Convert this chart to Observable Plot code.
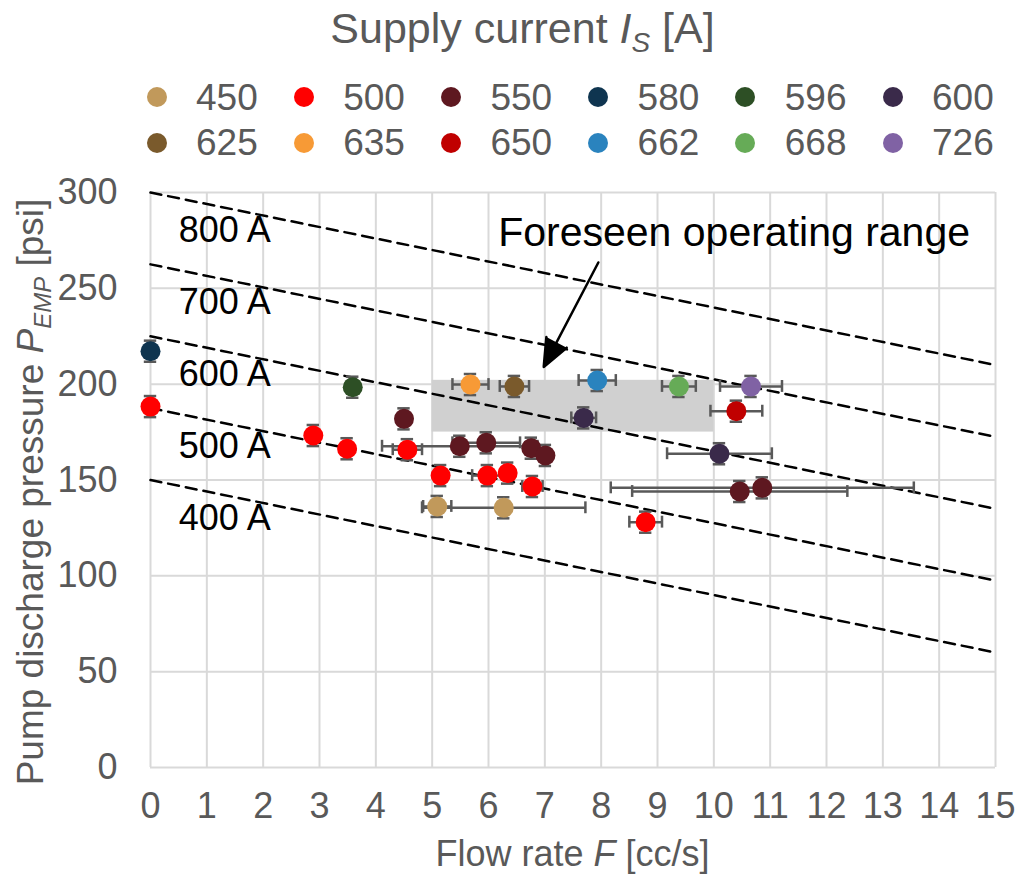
<!DOCTYPE html>
<html>
<head>
<meta charset="utf-8">
<script src="https://cdn.jsdelivr.net/npm/d3@7"></script>
<script src="https://cdn.jsdelivr.net/npm/@observablehq/plot@0.6"></script>
<style>
  html, body { margin: 0; padding: 0; background: #fff; overflow: hidden; }
  body { font-family: "Liberation Sans", Arial, sans-serif; }
  #chart { position: relative; width: 1026px; height: 879px; }
  #legend { position: relative; width: 1026px; height: 165px; color: #595959; }
  #legend .title { position: absolute; left: 0; width: 1045px; top: 7px; font-size: 43px; line-height: 43px; text-align: center; white-space: nowrap; }
  #legend .title .sub { font-size: 0.65em; font-style: italic; position: relative; top: 9px; }
  #legend .sw { position: absolute; width: 20px; height: 20px; border-radius: 50%; }
  #legend .lab { position: absolute; font-size: 37px; line-height: 37px; white-space: nowrap; }
  #chart svg { display: block; }
</style>
</head>
<body>
<div id="chart"><div id="legend"></div></div>
<script>
// ---- Data ----
const series = [450, 500, 550, 580, 596, 600, 625, 635, 650, 662, 668, 726];
const seriesColors = ["#c1995b", "#ff0000", "#5e1820", "#0f3550", "#2d4f25", "#3a2a4a",
                      "#7a5a2c", "#f79a36", "#c00000", "#2a83be", "#66ab57", "#8062a4"];

// supply current of each measured point
const pointCurrent = [450, 450,
  500, 500, 500, 500, 500, 500, 500, 500, 500,
  550, 550, 550, 550, 550, 550, 550,
  580, 596, 600, 600, 625, 635, 650, 662, 668, 726];
// flow rate F [cc/s]
const pointFlow = [5.09, 6.27,
  0, 2.89, 3.49, 4.56, 5.15, 5.98, 6.34, 6.78, 8.79,
  4.50, 5.49, 5.96, 6.76, 7.01, 10.46, 10.86,
  0, 3.59, 7.69, 10.10, 6.46, 5.68, 10.40, 7.93, 9.38, 10.66];
// pump discharge pressure [psi]
const pointPressure = [136.2, 135.5,
  188.3, 173.2, 166.3, 165.8, 152.3, 152.3, 153.6, 146.6, 128.0,
  181.9, 167.6, 169.4, 166.6, 162.8, 144.0, 145.9,
  217.2, 198.4, 182.4, 163.7, 198.8, 199.8, 185.9, 201.9, 198.8, 198.8];
// horizontal error (± cc/s)
const flowError = [0.25, 1.45,
  0, 0, 0, 0.26, 0, 0.27, 0, 0.18, 0.29,
  0, 1.38, 0.60, 0, 0, 1.91, 2.69,
  0, 0, 0.22, 0.93, 0.26, 0.32, 0.46, 0.33, 0.30, 0.55];
const pressureError = 5.5; // ± psi, same for all points

// constant-current reference lines
const lineCurrent = [400, 500, 600, 700, 800];
const linePressureAtZero = [150, 187.5, 225, 262.5, 300];
const linePressureAtMax = [60, 97.5, 135, 172.5, 210];
const lineFlowRange = [0, 15];

// foreseen operating range
const rangeFlow = [5, 10];
const rangePressure = [175, 202];
const annotationText = "Foreseen operating range";
const annotationAt = [10.36, 279];
const arrowFrom = [7.95, 263.5];
const arrowTo = [6.98, 209];

// axes
const flowTicks = [0, 1, 2, 3, 4, 5, 6, 7, 8, 9, 10, 11, 12, 13, 14, 15];
const pressureTicks = [0, 50, 100, 150, 200, 250, 300];

// ---- Build tables ----
const points = pointFlow.map((F, i) => ({F, P: pointPressure[i], I: pointCurrent[i], e: flowError[i]}));
const hbars = points.filter(d => d.e > 0);
const lineData = lineCurrent.flatMap((I, i) => [
  {I, F: lineFlowRange[0], P: linePressureAtZero[i]},
  {I, F: lineFlowRange[1], P: linePressureAtMax[i]}
]);
const labelFlow = 0.5, labelProbe = 1.33, labelDrop = 12;
const labelData = lineCurrent.map((I, i) => {
  const slope = (linePressureAtMax[i] - linePressureAtZero[i]) / (lineFlowRange[1] - lineFlowRange[0]);
  return {F: labelFlow, P: linePressureAtZero[i] + slope * labelProbe - labelDrop, t: `${I} A`};
});

// ---- Legend (HTML above the SVG) ----
const legend = d3.select("#legend");
legend.append("div").attr("class", "title")
  .html('Supply current <i>I</i><span class="sub">S</span> [A]');
series.forEach((s, i) => {
  const col = i % 6, row = Math.floor(i / 6);
  const cx = 156.5 + 147.2 * col, cy = 97 + 45.7 * row;
  legend.append("div").attr("class", "sw")
    .style("left", (cx - 10) + "px").style("top", (cy - 10) + "px")
    .style("background", seriesColors[i]);
  legend.append("div").attr("class", "lab")
    .style("left", (196 + 147.2 * col) + "px").style("top", (78.7 + 45.5 * row) + "px")
    .text(String(s));
});

// ---- Plot ----
const errStroke = "#595959";
const plot = Plot.plot({
  width: 1026,
  height: 714,
  marginTop: 27,
  marginRight: 31,
  marginBottom: 112,
  marginLeft: 150,
  style: {fontFamily: '"Liberation Sans", Arial, sans-serif', fontSize: "36px", color: "#595959", background: "white", overflow: "visible"},
  x: {domain: [0, 15], ticks: flowTicks, tickSize: 0, tickPadding: 25, label: null},
  y: {domain: [0, 300], ticks: pressureTicks, tickSize: 0, tickPadding: 33, label: null},
  color: {type: "ordinal", domain: series, range: seriesColors},
  marks: [
    Plot.ruleX(flowTicks, {x: d => d, stroke: "#d9d9d9", strokeWidth: 2}),
    Plot.ruleY(pressureTicks, {y: d => d, stroke: "#d9d9d9", strokeWidth: 2}),
    Plot.rect([{x1: rangeFlow[0], x2: rangeFlow[1], y1: rangePressure[0], y2: rangePressure[1]}],
      {x1: "x1", x2: "x2", y1: "y1", y2: "y2", fill: "#d0d0d0"}),
    Plot.line(lineData, {x: "F", y: "P", z: "I", stroke: "black", strokeWidth: 2.5, strokeDasharray: "11,7"}),
    Plot.text(labelData, {x: "F", y: "P", text: "t", textAnchor: "start", fill: "black", fontSize: 36}),
    // horizontal error bars
    Plot.ruleY(hbars, {y: "P", x1: d => d.F - d.e, x2: d => d.F + d.e, stroke: errStroke, strokeWidth: 2.5}),
    Plot.ruleX(hbars, {x: d => d.F - d.e, y1: d => d.P - 3.1, y2: d => d.P + 3.1, stroke: errStroke, strokeWidth: 2.5}),
    Plot.ruleX(hbars, {x: d => d.F + d.e, y1: d => d.P - 3.1, y2: d => d.P + 3.1, stroke: errStroke, strokeWidth: 2.5}),
    // vertical error bars
    Plot.ruleX(points, {x: "F", y1: d => d.P - pressureError, y2: d => d.P + pressureError, stroke: errStroke, strokeWidth: 2.5}),
    Plot.ruleY(points, {y: d => d.P - pressureError, x1: d => d.F - 0.11, x2: d => d.F + 0.11, stroke: errStroke, strokeWidth: 2.5}),
    Plot.ruleY(points, {y: d => d.P + pressureError, x1: d => d.F - 0.11, x2: d => d.F + 0.11, stroke: errStroke, strokeWidth: 2.5}),
    // points
    Plot.dot(points, {x: "F", y: "P", fill: "I", r: 10}),
    // annotation
    Plot.text([{F: annotationAt[0], P: annotationAt[1], t: annotationText}],
      {x: "F", y: "P", text: "t", fill: "black", fontSize: 41}),
    Plot.arrow([{x1: arrowFrom[0], y1: arrowFrom[1], x2: arrowTo[0], y2: arrowTo[1]}],
      {x1: "x1", y1: "y1", x2: "x2", y2: "y2", stroke: "black", fill: "black", strokeWidth: 2.5, headLength: 18, headAngle: 45})
  ]
});

const svg = d3.select(plot);
// x-axis title
const xt = svg.append("text")
  .attr("x", 572.5).attr("y", 701).attr("text-anchor", "middle")
  .attr("font-size", 36).attr("fill", "#595959");
xt.append("tspan").text("Flow rate ");
xt.append("tspan").attr("font-style", "italic").text("F");
xt.append("tspan").text(" [cc/s]");
// y-axis title
const yt = svg.append("text")
  .attr("transform", "translate(43,327) rotate(-90)").attr("text-anchor", "middle")
  .attr("font-size", 37).attr("fill", "#595959");
yt.append("tspan").text("Pump discharge pressure ");
yt.append("tspan").attr("font-style", "italic").text("P");
yt.append("tspan").attr("font-style", "italic").attr("font-size", 24).attr("dy", 8).text("EMP");
yt.append("tspan").attr("dy", -8).text(" [psi]");

document.getElementById("chart").appendChild(plot);
</script>
</body>
</html>
